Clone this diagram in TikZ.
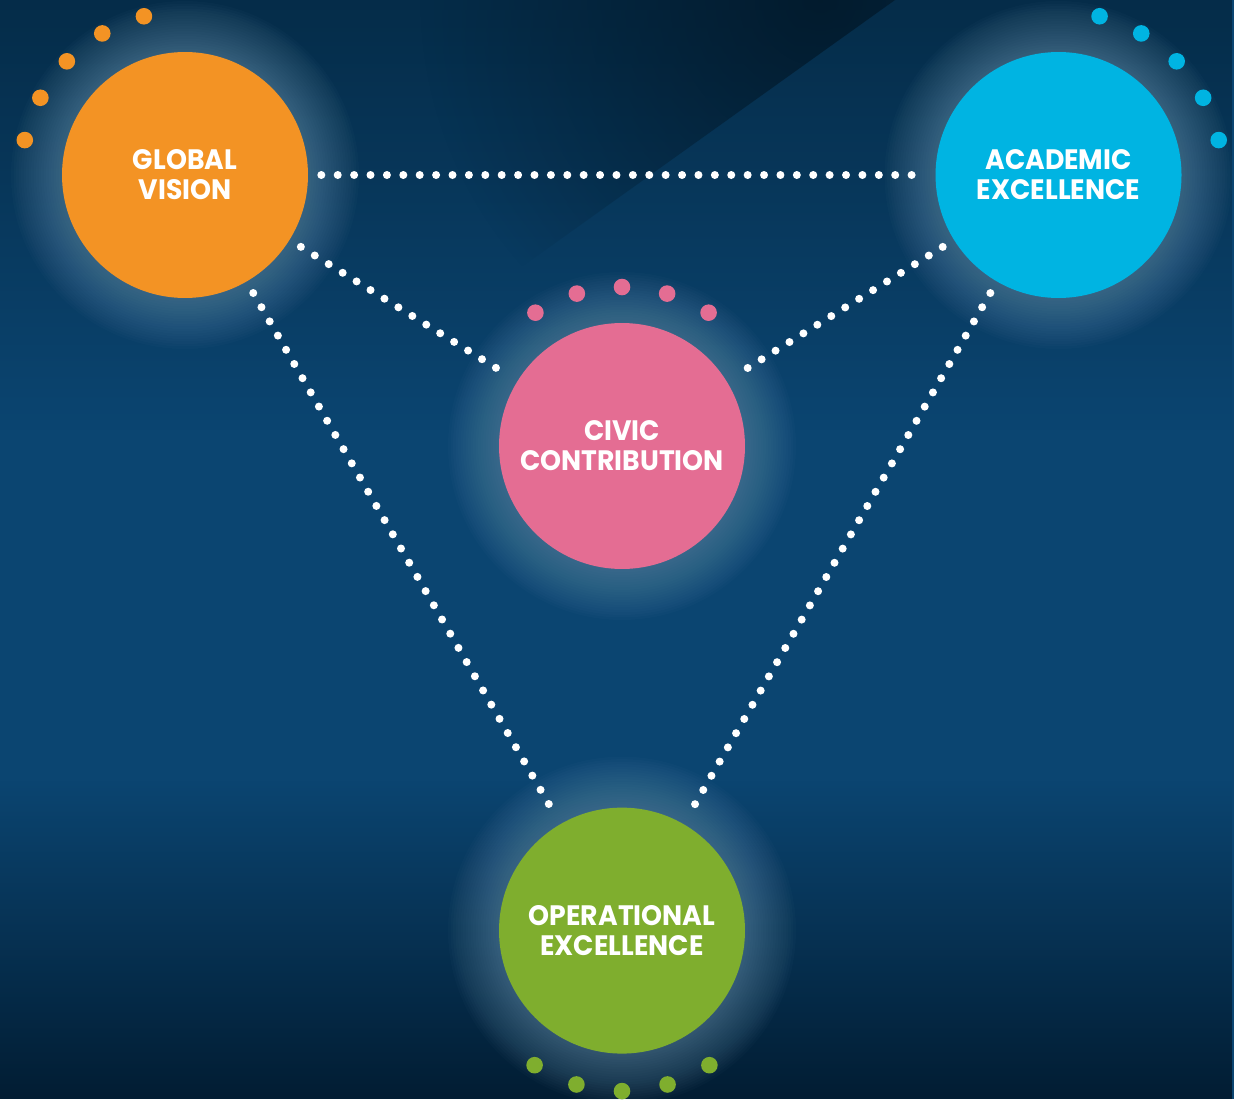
\documentclass[tikz,border=0pt]{standalone}
\usepackage{fontspec}
\newfontfamily\hubfont{Poppins}[FakeStretch=0.95]
\usetikzlibrary{positioning,fadings}
\definecolor{visionOrange}{HTML}{F39324}
\definecolor{academicBlue}{HTML}{00B4E2}
\definecolor{civicPink}{HTML}{E46D93}
\definecolor{operationalGreen}{HTML}{7FAE2E}
\definecolor{bgTop}{HTML}{042842}
\definecolor{bgMid}{HTML}{0B4571}
\definecolor{bgBottom}{HTML}{021D33}
\definecolor{bgDeep}{HTML}{021727}
\definecolor{haloBlue}{HTML}{7FA7C0}
\tikzfading[name=fade corner, inner color=transparent!20, outer color=transparent!100]
\tikzfading[name=fade down, top color=transparent!15, bottom color=transparent!100]
\tikzfading[name=fade up, top color=transparent!100, bottom color=transparent!0]
\pgfdeclarelayer{backdrop}
\pgfdeclarelayer{glow}
\pgfsetlayers{backdrop,glow,main}

\begin{document}
\begin{tikzpicture}[
    x=0.02cm, y=-0.02cm,
    hub/.style={circle, fill=#1, minimum size=4.92cm, inner sep=0pt, align=center, text=white,
      font=\hubfont\bfseries\fontsize{16pt}{17pt}\selectfont},
    link/.style={white, line width=0.16cm, line cap=round, dash pattern=on 0pt off 0.328cm,
      shorten <=0.26cm, shorten >=0.26cm},
    halo/.style={fill=haloBlue, opacity=0.028}
  ]
  \useasboundingbox (0,0) rectangle (1234,1099);

  % the four hubs
  \node[hub=visionOrange] (vision) at (185,175) {GLOBAL\\VISION};
  \node[hub=academicBlue, right=12.54cm of vision] (academic) {ACADEMIC\\EXCELLENCE};
  \node[hub=civicPink] (civic) at (622,446) {CIVIC\\CONTRIBUTION};
  \node[hub=operationalGreen, below=4.76cm of civic] (operational) {OPERATIONAL\\EXCELLENCE};

  % dotted links
  \draw[link] (vision) -- (academic);
  \draw[link] (vision) -- (civic);
  \draw[link] (academic) -- (civic);
  \draw[link] (vision) -- (operational);
  \draw[link] (academic) -- (operational);

  % beads round each hub
  \foreach \a in {104.5,120.3,136.1,151.9,167.7}
    \fill[visionOrange] (vision) ++(\a:3.28cm) circle (0.166cm);
  \foreach \a in {12.3,28.1,43.9,59.7,75.5}
    \fill[academicBlue] (academic) ++(\a:3.28cm) circle (0.166cm);
  \foreach \a in {57,73.5,90,106.5,123}
    \fill[civicPink] (civic) ++(\a:3.18cm) circle (0.166cm);
  \foreach \a in {-57,-73.5,-90,-106.5,-123}
    \fill[operationalGreen] (operational) ++(\a:3.21cm) circle (0.166cm);

  % soft glow behind the hubs
  \begin{pgfonlayer}{glow}
    \foreach \n in {vision,academic,civic,operational}
      \foreach \r in {2.48,2.53,...,3.5}
        \fill[halo] (\n) circle (\r cm);
  \end{pgfonlayer}

  \begin{pgfonlayer}{backdrop}
    \fill[bgMid] (0,0) rectangle (1234,1099);
    \fill[bgTop, path fading=fade down] (0,0) rectangle (1234,430);
    \fill[bgBottom, path fading=fade up] (0,780) rectangle (1234,1099);
    % darker wedge above the diagonal edge
    \begin{scope}
      \clip (0,0) -- (895,0) -- (200,497) -- (0,497) -- cycle;
      \fill[bgDeep, path fading=fade corner] (820,0) circle (8cm);
    \end{scope}
  \end{pgfonlayer}
\end{tikzpicture}
\end{document}
